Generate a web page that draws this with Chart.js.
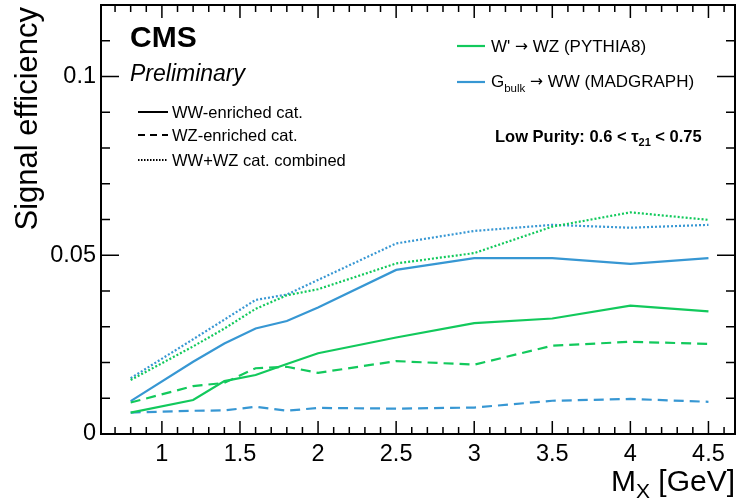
<!DOCTYPE html>
<html>
<head>
<meta charset="utf-8">
<script src="https://cdn.jsdelivr.net/npm/chart.js@4.4.1/dist/chart.umd.min.js"></script>
<style>
  html, body { margin: 0; padding: 0; background: #fff; }
  canvas { display: block; }
</style>
</head>
<body>
<canvas id="effChart" width="741" height="501"></canvas>
<script>
// ==================== DATA ====================
const massPoints = [0.8, 1.2, 1.4, 1.6, 1.8, 2.0, 2.5, 3.0, 3.5, 4.0, 4.5];

// W' -> WZ (PYTHIA8), green
const wprimeWW   = [0.0060, 0.0095, 0.0148, 0.0165, 0.0196, 0.0226, 0.0270, 0.0310, 0.0323, 0.0359, 0.0343];
const wprimeWZ   = [0.0088, 0.0134, 0.0143, 0.0184, 0.0188, 0.0171, 0.0204, 0.0194, 0.0247, 0.0258, 0.0252];
const wprimeComb = [0.0151, 0.0245, 0.0295, 0.0350, 0.0388, 0.0405, 0.0477, 0.0506, 0.0580, 0.0620, 0.0599];

// G_bulk -> WW (MADGRAPH), blue
const gbulkWW   = [0.0092, 0.0202, 0.0253, 0.0295, 0.0316, 0.0354, 0.0459, 0.0492, 0.0492, 0.0476, 0.0492];
const gbulkWZ   = [0.0060, 0.0065, 0.0066, 0.0076, 0.0065, 0.0073, 0.0071, 0.0074, 0.0093, 0.0098, 0.0090];
const gbulkComb = [0.0156, 0.0265, 0.0320, 0.0375, 0.0390, 0.0431, 0.0533, 0.0568, 0.0585, 0.0577, 0.0585];

const xTickLabels = [1, 1.5, 2, 2.5, 3, 3.5, 4, 4.5];
const yTickLabels = [0, 0.05, 0.1];

const GREEN = '#12c95c';
const BLUE = '#3797d3';
const FONT = "'Liberation Sans', Helvetica, Arial, sans-serif";
const ARROW_FONT = "'DejaVu Sans', sans-serif";
const DASHED = [10, 6];
const DOTTED = [2, 2];

function series(label, values, color, dash) {
  return {
    label,
    data: massPoints.map((m, i) => ({ x: m, y: values[i] })),
    borderColor: color,
    borderWidth: 2.2,
    borderDash: dash,
    pointRadius: 0,
    fill: false,
    tension: 0
  };
}

// draws text pieces left to right, [text, size, style, dy, family]
function drawPieces(ctx, x, y, pieces) {
  pieces.forEach(([txt, size, style, dy, family]) => {
    ctx.font = `${style || ''} ${size}px ${family || FONT}`;
    ctx.fillText(txt, x, y + (dy || 0));
    x += ctx.measureText(txt).width;
  });
  return x;
}

function piecesWidth(ctx, pieces) {
  let w = 0;
  pieces.forEach(([txt, size, style, dy, family]) => {
    ctx.font = `${style || ''} ${size}px ${family || FONT}`;
    w += ctx.measureText(txt).width;
  });
  return w;
}

// ==================== FRAME, TICKS & LABELS ====================
const rootStyle = {
  id: 'rootStyle',
  afterDraw(chart) {
    const { ctx, chartArea: a, scales: { x, y } } = chart;
    ctx.save();
    ctx.strokeStyle = '#000';
    ctx.fillStyle = '#000';

    // inward ticks on all four sides
    ctx.lineWidth = 1.5;
    ctx.beginPath();
    for (let i = 7; i <= 46; i++) {
      const px = x.getPixelForValue(i / 10);
      const len = i % 5 === 0 ? 13 : 7;
      ctx.moveTo(px, a.bottom); ctx.lineTo(px, a.bottom - len);
      ctx.moveTo(px, a.top); ctx.lineTo(px, a.top + len);
    }
    for (let i = 1; i <= 11; i++) {
      const py = y.getPixelForValue(i / 100);
      const len = i % 5 === 0 ? 18 : 9;
      ctx.moveTo(a.left, py); ctx.lineTo(a.left + len, py);
      ctx.moveTo(a.right, py); ctx.lineTo(a.right - len, py);
    }
    ctx.stroke();

    ctx.lineWidth = 2;
    ctx.strokeRect(a.left, a.top, a.right - a.left, a.bottom - a.top);

    // axis titles
    ctx.save();
    ctx.translate(37, 7);
    ctx.rotate(-Math.PI / 2);
    ctx.textAlign = 'right';
    ctx.font = `31px ${FONT}`;
    ctx.fillText('Signal efficiency', 0, 0);
    ctx.restore();

    ctx.textAlign = 'left';
    const xTitle = [['M', 30], ['X', 21, '', 7], [' [GeV]', 30]];
    drawPieces(ctx, 735 - piecesWidth(ctx, xTitle), 491, xTitle);

    // CMS label
    ctx.font = `bold 30px ${FONT}`;
    ctx.fillText('CMS', 130, 47);
    ctx.font = `italic 23px ${FONT}`;
    ctx.fillText('Preliminary', 130, 81);

    // line-style legend
    const styles = [
      [[], 'WW-enriched cat.', 112],
      [[7, 5], 'WZ-enriched cat.', 135],
      [[1.5, 1.5], 'WW+WZ cat. combined', 160]
    ];
    ctx.strokeStyle = '#000';
    ctx.lineWidth = 2;
    styles.forEach(([dash, txt, yy]) => {
      ctx.setLineDash(dash);
      ctx.beginPath();
      ctx.moveTo(138, yy); ctx.lineTo(168, yy);
      ctx.stroke();
      ctx.font = `16.5px ${FONT}`;
      ctx.fillText(txt, 172, yy + 6);
    });
    ctx.setLineDash([]);

    // signal legend
    ctx.lineWidth = 2.2;
    ctx.strokeStyle = GREEN;
    ctx.beginPath(); ctx.moveTo(457, 46); ctx.lineTo(485, 46); ctx.stroke();
    ctx.strokeStyle = BLUE;
    ctx.beginPath(); ctx.moveTo(457, 82); ctx.lineTo(485, 82); ctx.stroke();
    drawPieces(ctx, 491, 52, [["W' ", 17], ['\u2192', 15.5, '', -1, ARROW_FONT], [' WZ (PYTHIA8)', 17]]);
    drawPieces(ctx, 491, 87, [['G', 17], ['bulk', 11.5, '', 5], [' ', 17],
      ['\u2192', 15.5, '', -1, ARROW_FONT], [' WW (MADGRAPH)', 17]]);

    // category cut
    drawPieces(ctx, 495, 142, [
      ['Low Purity: 0.6 < \u03C4', 16.5, 'bold'],
      ['21', 11, 'bold', 4],
      [' < 0.75', 16.5, 'bold']
    ]);

    ctx.restore();
  }
};

// ==================== CHART ====================
new Chart(document.getElementById('effChart'), {
  type: 'line',
  data: {
    datasets: [
      series("W' WW-enriched", wprimeWW, GREEN, []),
      series("W' WZ-enriched", wprimeWZ, GREEN, DASHED),
      series("W' combined", wprimeComb, GREEN, DOTTED),
      series('Gbulk WW-enriched', gbulkWW, BLUE, []),
      series('Gbulk WZ-enriched', gbulkWZ, BLUE, DASHED),
      series('Gbulk combined', gbulkComb, BLUE, DOTTED)
    ]
  },
  options: {
    responsive: false,
    animation: false,
    layout: { padding: { left: 0, right: 6, top: 5, bottom: 0 } },
    plugins: { legend: { display: false }, tooltip: { enabled: false } },
    scales: {
      x: {
        type: 'linear',
        min: 0.61,
        max: 4.67,
        grid: { display: false, drawTicks: false },
        border: { display: false },
        afterBuildTicks: s => { s.ticks = xTickLabels.map(v => ({ value: v })); },
        afterFit: s => { s.height = 67; s.paddingLeft = 0; s.paddingRight = 0; },
        ticks: {
          padding: 6,
          color: '#000',
          maxRotation: 0,
          autoSkip: false,
          font: { family: FONT, size: 23.5 },
          callback: v => String(v)
        }
      },
      y: {
        type: 'linear',
        min: 0,
        max: 0.12,
        grid: { display: false, drawTicks: false },
        border: { display: false },
        afterBuildTicks: s => { s.ticks = yTickLabels.map(v => ({ value: v })); },
        afterFit: s => { s.width = 101; s.paddingTop = 0; s.paddingBottom = 0; },
        ticks: {
          padding: 5,
          color: '#000',
          font: { family: FONT, size: 23.5 },
          callback: v => String(v)
        }
      }
    }
  },
  plugins: [rootStyle]
});
</script>
</body>
</html>
